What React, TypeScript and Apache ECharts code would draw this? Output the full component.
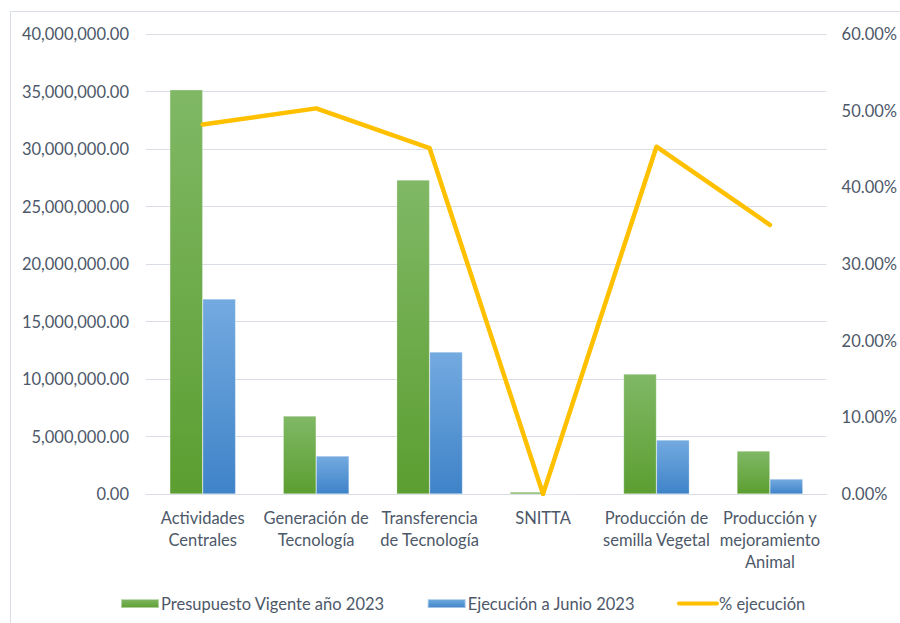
import React, { useEffect, useRef } from "react";
import * as echarts from "echarts";

const categories = [
  "Actividades\nCentrales",
  "Generación de\nTecnología",
  "Transferencia\nde Tecnología",
  "SNITTA",
  "Producción de\nsemilla Vegetal",
  "Producción y\nmejoramiento\nAnimal",
];
const presupuesto = [35150000, 6780000, 27300000, 170000, 10430000, 3740000];
const ejecucion = [16960000, 3300000, 12350000, 0, 4700000, 1300000];
const porcentaje = [48.2, 50.3, 45.1, 0, 45.3, 35.1];

const seriesNames = ["Presupuesto Vigente año 2023", "Ejecución a Junio 2023", "% ejecución"];

const textColor = "#4d5869";
const fontFamily = "Lato, 'Open Sans', sans-serif";
const fs = 16.5;

function fmtNum(v: number) {
  return v.toLocaleString("en-US", { minimumFractionDigits: 2, maximumFractionDigits: 2 });
}

export default function App() {
  const ref = useRef<HTMLDivElement>(null);
  useEffect(() => {
    if (!ref.current) return;
    const chart = echarts.init(ref.current, undefined, { renderer: "svg" });
    chart.setOption({
      animation: false,
      backgroundColor: "#ffffff",
      textStyle: { fontFamily, color: textColor },
      graphic: [
        {
          type: "rect",
          shape: { x: 10.5, y: 11.5, width: 1000, height: 1000 },
          style: { fill: "none", stroke: "#d9dee6", lineWidth: 1 },
          silent: true,
          z: -10,
        },
      ],
      grid: { left: 146, right: 72, top: 34, bottom: 129, containLabel: false },
      legend: {
        bottom: 6,
        left: 115,
        itemWidth: 38,
        itemHeight: 9,
        itemGap: 42,
        textStyle: { fontFamily, fontSize: fs, color: textColor, padding: [0, 0, 0, -3] },
        data: [
          { name: seriesNames[0], icon: "rect" },
          { name: seriesNames[1], icon: "rect" },
          { name: seriesNames[2], itemStyle: { opacity: 0 }, lineStyle: { width: 4 } },
        ],
      },
      xAxis: {
        type: "category",
        data: categories,
        axisLine: { show: true, lineStyle: { color: "#d9dee6", width: 1 } },
        axisTick: { show: false },
        axisLabel: {
          fontFamily,
          fontSize: fs,
          color: textColor,
          lineHeight: 22,
          margin: 13,
          interval: 0,
        },
      },
      yAxis: [
        {
          type: "value",
          min: 0,
          max: 40000000,
          interval: 5000000,
          axisLine: { show: false },
          axisTick: { show: false },
          splitLine: { lineStyle: { color: "#d9dee6", width: 1 } },
          axisLabel: {
            fontFamily,
            fontSize: fs,
            color: textColor,
            margin: 17,
            formatter: (v: number) => fmtNum(v),
          },
        },
        {
          type: "value",
          min: 0,
          max: 60,
          interval: 10,
          position: "right",
          axisLine: { show: false },
          axisTick: { show: false },
          splitLine: { show: false },
          axisLabel: {
            fontFamily,
            fontSize: fs,
            color: textColor,
            margin: 15,
            formatter: (v: number) => v.toFixed(2) + "%",
          },
        },
      ],
      series: [
        {
          name: seriesNames[0],
          type: "bar",
          data: presupuesto,
          barGap: "0%",
          barCategoryGap: "42%",
          itemStyle: {
            color: new echarts.graphic.LinearGradient(0, 0, 0, 1, [
              { offset: 0, color: "#80b865" },
              { offset: 1, color: "#5c9e31" },
            ]),
            borderColor: "rgba(255,255,255,0.5)",
            borderWidth: 0.5,
          },
        },
        {
          name: seriesNames[1],
          type: "bar",
          data: ejecucion,
          itemStyle: {
            color: new echarts.graphic.LinearGradient(0, 0, 0, 1, [
              { offset: 0, color: "#73aae0" },
              { offset: 1, color: "#3f83c8" },
            ]),
            borderColor: "rgba(255,255,255,0.5)",
            borderWidth: 0.5,
          },
        },
        {
          name: seriesNames[2],
          type: "line",
          yAxisIndex: 1,
          data: porcentaje,
          symbol: "none",
          lineStyle: { color: "#ffc000", width: 4.5, join: "round", cap: "round" },
          itemStyle: { color: "#ffc000" },
          z: 5,
        },
      ],
    });
    return () => chart.dispose();
  }, []);
  return (
    <div
      ref={ref}
      style={{ position: "fixed", left: 0, top: 0, width: 900, height: 623 }}
    />
  );
}
